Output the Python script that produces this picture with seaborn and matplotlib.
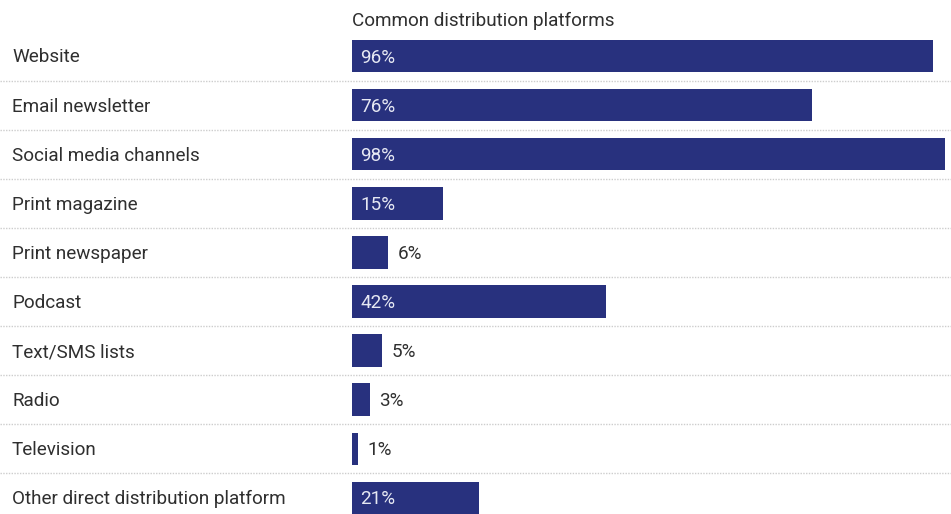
import matplotlib
matplotlib.use("Agg")
import matplotlib.pyplot as plt
import matplotlib.transforms as mtransforms
import seaborn as sns
import pandas as pd

platforms = ["Website", "Email newsletter", "Social media channels", "Print magazine",
             "Print newspaper", "Podcast", "Text/SMS lists", "Radio", "Television",
             "Other direct distribution platform"]
shares = [96, 76, 98, 15, 6, 42, 5, 3, 1, 21]
title = "Common distribution platforms"

df = pd.DataFrame({"platform": platforms, "share": shares})

sns.set_style("white")
plt.rcParams["font.family"] = ["Roboto", "DejaVu Sans"]

W, H = 951, 514
fig = plt.figure(figsize=(W / 100, H / 100), dpi=100)

# plot area: 0..100% spans x=352..957 px, rows centred from y=56 with 49.1 px pitch
x0, x1 = 352, 957
row0, pitch = 56, 49.1
top_px = row0 - pitch / 2
bot_px = row0 + pitch * 9.5
ax = fig.add_axes([x0 / W, 1 - bot_px / H, (x1 - x0) / W, (bot_px - top_px) / H])

bar_color = "#28317e"
sns.barplot(data=df, x="share", y="platform", orient="h", color=bar_color,
            width=0.66, saturation=1, ax=ax, edgecolor="none")

ax.set_xlim(0, 100)
ax.set_ylim(len(platforms) - 0.5, -0.5)
ax.axis("off")

blend = mtransforms.blended_transform_factory(fig.transFigure, ax.transData)

# dotted row separators across the full width
for i in range(len(platforms) - 1):
    ax.plot([0, 1], [i + 0.5, i + 0.5], transform=blend, color="#cdcdcd",
            lw=1.0, ls=(0, (1, 1)), clip_on=False)

text_color = "#2f2f2f"
fs = 13.6
label_tf = mtransforms.offset_copy(blend, fig=fig, y=-1.5, units="dots")

# category labels at the left edge
for i, name in enumerate(platforms):
    fig.text(12 / W, i, name, transform=label_tf, va="center", ha="left",
             fontsize=fs, color=text_color)

# value labels: inside wide bars, just past the end of short ones
for i, v in enumerate(shares):
    if v >= 10:
        ax.annotate(f"{v}%", (0, i), xytext=(6, -1.1), textcoords="offset points",
                    va="center", ha="left", fontsize=fs, color="#e6e8f3")
    else:
        ax.annotate(f"{v}%", (v, i), xytext=(6.5, -1.1), textcoords="offset points",
                    va="center", ha="left", fontsize=fs, color=text_color)

fig.text(x0 / W, 1 - 21 / H, title, ha="left", va="center", fontsize=fs,
         color=text_color)

fig.savefig("out.png", dpi=100)
